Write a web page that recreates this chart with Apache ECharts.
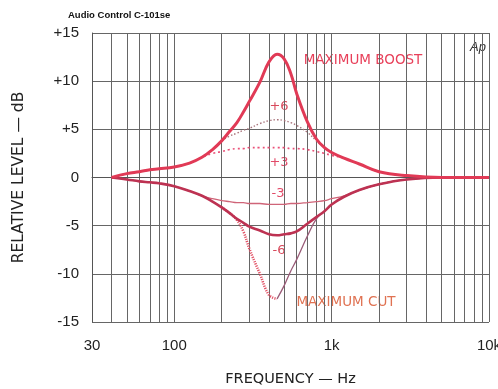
<!DOCTYPE html>
<html>
<head>
<meta charset="utf-8">
<script src="https://cdn.jsdelivr.net/npm/echarts@6/dist/echarts.min.js"></script>
<style>
  html, body { margin: 0; padding: 0; background: #fff; }
  #chart { width: 498px; height: 389px; }
</style>
</head>
<body>
<div id="chart"></div>
<script>
// frequency points (Hz) the curves were read at
const freqs = [40, 50, 60, 70, 80, 100, 125, 150, 175, 200, 225, 250, 275, 300, 350, 400, 450, 500, 550, 600, 700, 800, 900, 1000, 1200, 1500, 2000, 3000, 5000, 10000];

// relative level, dB
const maxBoost = [0, 0.4, 0.6, 0.8, 0.9, 1.1, 1.5, 2.1, 2.9, 3.8, 4.8, 5.7, 6.8, 7.9, 9.9, 12.0, 12.8, 12.3, 10.8, 8.7, 5.8, 4.0, 3.1, 2.6, 2.0, 1.4, 0.6, 0.2, 0, 0];
const boost6 = [0, 0.4, 0.6, 0.8, 0.9, 1.1, 1.5, 2.1, 2.9, 3.8, 4.3, 4.6, 4.9, 5.1, 5.6, 5.9, 6.0, 5.9, 5.7, 5.4, 4.7, 3.8, 3.1, 2.6, 2.0, 1.4, 0.6, 0.2, 0, 0];
const boost3 = [0, 0.4, 0.6, 0.8, 0.9, 1.1, 1.5, 2.1, 2.5, 2.7, 2.9, 3.0, 3.0, 3.1, 3.1, 3.1, 3.1, 3.1, 3.0, 3.0, 2.9, 2.7, 2.5, 2.3, 2.0, 1.4, 0.6, 0.2, 0, 0];
const cut3 = [0, -0.2, -0.4, -0.5, -0.6, -0.9, -1.4, -1.9, -2.2, -2.4, -2.5, -2.6, -2.6, -2.7, -2.7, -2.8, -2.8, -2.8, -2.7, -2.7, -2.6, -2.5, -2.4, -2.2, -1.9, -1.3, -0.7, -0.2, 0, 0];
const cut6 = [0, -0.2, -0.4, -0.5, -0.6, -0.9, -1.4, -1.9, -2.5, -3.1, -3.7, -4.3, -4.7, -5.1, -5.5, -5.9, -6.0, -5.9, -5.8, -5.6, -4.8, -4.1, -3.5, -2.8, -2.0, -1.3, -0.7, -0.2, 0, 0];
const maxCut = [0, -0.2, -0.4, -0.5, -0.6, -0.9, -1.4, -1.9, -2.5, -3.1, -3.7, -4.4, -5.6, -7.4, -10.0, -12.2, -12.6, -11.2, -9.7, -8.5, -6.1, -4.3, -3.5, -2.8, -2.0, -1.3, -0.7, -0.2, 0, 0];
const cutSplitHz = 450; // dotted trace below this, thin solid trace above

// axes
const xMinHz = 30;
const xMaxHz = 10000;
const xLabelHz = [30, 100, 1000, 10000];
const xLabelText = ['30', '100', '1k', '10k'];
const xGridHz = [30, 40, 50, 60, 70, 80, 90, 100, 200, 300, 400, 500, 600, 700, 800, 900, 1000, 2000, 3000, 4000, 5000, 6000, 7000, 8000, 9000, 10000];

const lg = v => Math.log10(v);
const pts = vals => freqs.map((f, i) => [lg(f), vals[i]]);

const chart = echarts.init(document.getElementById('chart'));

const labelFont = 'Liberation Sans';
const curveText = (text, x, y, color, size) => ({
  type: 'text', x: x, y: y, silent: true,
  style: { text: text, fill: color, font: size + 'px "DejaVu Sans"', align: 'center', verticalAlign: 'middle' }
});
const curve = (name, vals, z, lineStyle) => ({
  name: name, type: 'line', smooth: 0.4, showSymbol: false, z: z,
  data: pts(vals), lineStyle: lineStyle
});

chart.setOption({
  animation: false,
  backgroundColor: '#fff',
  grid: { left: 92, right: 9, top: 33, bottom: 67, outerBoundsMode: 'none', containLabel: false },
  xAxis: {
    type: 'value',
    min: lg(xMinHz),
    max: lg(xMaxHz),
    name: 'FREQUENCY — Hz',
    nameLocation: 'middle',
    nameGap: 50,
    nameTextStyle: { fontFamily: 'DejaVu Sans', fontSize: 14.5, color: '#222' },
    axisLine: { show: true, lineStyle: { color: '#555', width: 1 } },
    axisTick: { show: false, customValues: xGridHz.map(lg) },
    axisLabel: {
      customValues: xLabelHz.map(lg),
      margin: 16,
      fontFamily: labelFont, fontSize: 15, color: '#222',
      formatter: v => {
        const i = xLabelHz.findIndex(h => Math.abs(lg(h) - v) < 1e-6);
        return i >= 0 ? xLabelText[i] : '';
      }
    },
    splitLine: { show: true, lineStyle: { color: '#666', width: 1 } }
  },
  yAxis: {
    type: 'value',
    min: -15,
    max: 15,
    interval: 5,
    name: 'RELATIVE LEVEL — dB',
    nameLocation: 'middle',
    nameRotate: 90,
    nameGap: 65,
    nameTextStyle: { fontFamily: 'DejaVu Sans', fontSize: 15.5, color: '#222' },
    axisLine: { show: true, lineStyle: { color: '#555', width: 1 } },
    axisTick: { show: false },
    axisLabel: {
      margin: 13,
      fontFamily: labelFont, fontSize: 15, color: '#222',
      formatter: v => (v > 0 ? '+' + v : String(v))
    },
    splitLine: { show: true, lineStyle: { color: '#666', width: 1 } }
  },
  series: [
    curve('maxCutLow', maxCut.map((v, i) => (freqs[i] >= 200 && freqs[i] <= cutSplitHz ? v : null)), 3,
      { color: '#e25468', width: 2.6, type: [1.2, 1.2] }),
    curve('maxCutHigh', maxCut.map((v, i) => (freqs[i] >= cutSplitHz ? v : null)), 3,
      { color: '#9a5c78', width: 1.3 }),
    curve('cut3', cut3, 4, { color: '#cf6478', width: 1.3 }),
    curve('cut6', cut6, 5, { color: '#bd3252', width: 2.6 }),
    curve('boost3', boost3, 4, { color: '#ea5078', width: 1.6, type: [2, 3] }),
    curve('boost6', boost6, 4, { color: '#a8727a', width: 1.4, type: [1.5, 2] }),
    curve('maxBoost', maxBoost, 5, { color: '#e13a56', width: 3 })
  ],
  graphic: [
    { type: 'text', x: 68, y: 10, silent: true,
      style: { text: 'Audio Control C-101se', fill: '#111', font: 'bold 9.5px "Liberation Sans"' } },
    { type: 'text', x: 470, y: 41, silent: true,
      style: { text: 'Ap', fill: '#333', font: 'italic 13px "Liberation Sans"' } },
    curveText('MAXIMUM BOOST', 363, 60, '#e8405a', 13.5),
    curveText('+6', 279, 107, '#d84a5c', 13),
    curveText('+3', 279, 163, '#e24a68', 13),
    curveText('-3', 278, 194, '#e24a68', 13),
    curveText('-6', 279, 251, '#d84a5c', 13),
    curveText('MAXIMUM CUT', 346, 302, '#e07252', 13.5)
  ]
});
</script>
</body>
</html>
